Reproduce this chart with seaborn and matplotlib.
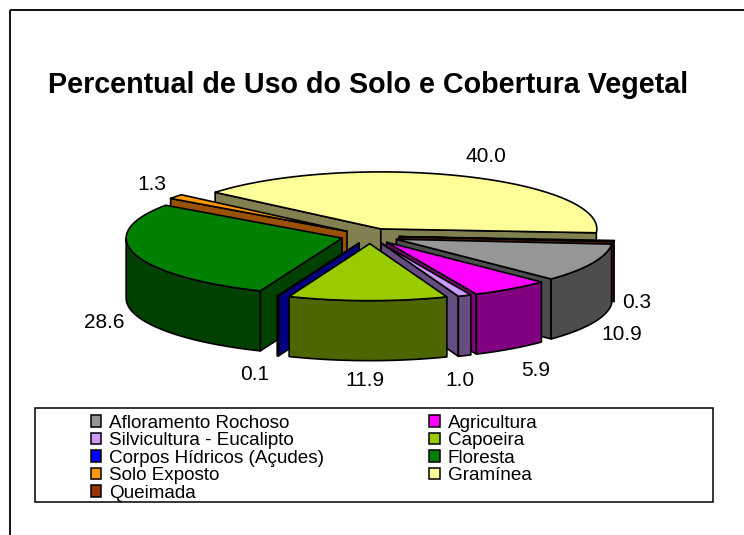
import matplotlib
matplotlib.use("Agg")
import matplotlib.pyplot as plt
import numpy as np
import seaborn as sns
from matplotlib.patches import Patch, Rectangle

# slices in legend order, clockwise
categories = [
    "Afloramento Rochoso",
    "Agricultura",
    "Silvicultura - Eucalipto",
    "Capoeira",
    "Corpos Hídricos (Açudes)",
    "Floresta",
    "Solo Exposto",
    "Gramínea",
    "Queimada",
]
values = [10.9, 5.9, 1.0, 11.9, 0.1, 28.6, 1.3, 40.0, 0.3]
title = "Percentual de Uso do Solo e Cobertura Vegetal"

top_colors = ["#969696", "#ff00ff", "#cc99ff", "#99cc00", "#0000ff", "#008000", "#ff9900", "#ffff99", "#993300"]
side_colors = ["#4d4d4d", "#800080", "#664d80", "#4d6600", "#000080", "#004000", "#995000", "#808050", "#4d1a00"]

# where the value labels sit (pixels)
label_x = [622, 536, 460, 365, 255, 104, 152, 486, 637]
label_y = [334, 370, 380, 381, 375, 322, 184, 157, 303]

# back to front
draw_order = [7, 8, 0, 1, 2, 6, 5, 4, 3]

CX, CY = 370, 236
A, B = 216, 57
DEPTH = 60
EXPLODE = 29
START = 95

sns.set_theme(style="white")
plt.rcParams["font.family"] = ["Liberation Sans", "DejaVu Sans"]

fig, ax = plt.subplots(figsize=(7.44, 5.35), dpi=100)
fig.subplots_adjust(0, 0, 1, 1)
ax.set_xlim(0, 744)
ax.set_ylim(535, 0)
ax.axis("off")


def rim(apex, theta):
    t = np.radians(theta)
    return apex[0] + A * np.sin(t), apex[1] - B * np.cos(t)


def draw_slice(i, t0, t1):
    mid = np.radians((t0 + t1) / 2)
    apex = (CX + EXPLODE * np.sin(mid), CY - EXPLODE * np.cos(mid) * B / A)
    line = dict(edgecolor="black", linewidth=1.2, joinstyle="round")

    # cut faces turned to the viewer
    for t, visible in ((t0, np.sin(np.radians(t0)) < 0), (t1, np.sin(np.radians(t1)) > 0)):
        if visible:
            x, y = rim(apex, t)
            ax.fill([apex[0], x, x, apex[0]], [apex[1], y, y + DEPTH, apex[1] + DEPTH], facecolor=side_colors[i], **line)

    # outer wall, front half only
    lo, hi = max(t0, 90), min(t1, 270)
    if hi > lo:
        th = np.linspace(lo, hi, 80)
        x, y = rim(apex, th)
        ax.fill(np.r_[x, x[::-1]], np.r_[y, y[::-1] + DEPTH], facecolor=side_colors[i], **line)

    # top
    th = np.linspace(t0, t1, 160)
    x, y = rim(apex, th)
    ax.fill(np.r_[apex[0], x], np.r_[apex[1], y], facecolor=top_colors[i], **line)


# value -> angle
edges = START + np.r_[0, np.cumsum(values)] * 3.6
for i in draw_order:
    draw_slice(i, edges[i], edges[i + 1])

for v, x, y in zip(values, label_x, label_y):
    ax.text(x, y, f"{v:.1f}", ha="center", va="center", fontsize=15, color="black")

ax.text(368.5, 85, title, ha="center", va="center", fontsize=20.6, fontweight="bold", color="black")

# chart frame, runs off the right and bottom of the picture
ax.add_patch(Rectangle((10, 10), 800, 600, fill=False, edgecolor="#111111", linewidth=1.4))

# legend box + entries, filled row by row like the original
ax.add_patch(Rectangle((35, 408), 678, 94, fill=False, edgecolor="black", linewidth=1.1))
handles = [Patch(facecolor=c, edgecolor="black", linewidth=1.1) for c in top_colors]
order = list(range(0, 9, 2)) + list(range(1, 9, 2))
ax.legend(
    [handles[i] for i in order],
    [categories[i] for i in order],
    ncol=2,
    frameon=False,
    loc="upper left",
    bbox_to_anchor=(91 / 744, 1 - 414.5 / 535),
    borderaxespad=0,
    borderpad=0,
    fontsize=13.6,
    labelspacing=0.03,
    handlelength=0.55,
    handleheight=0.55,
    handletextpad=0.42,
    columnspacing=5.56,
    labelcolor="black",
)

fig.savefig("out.png", dpi=100)
